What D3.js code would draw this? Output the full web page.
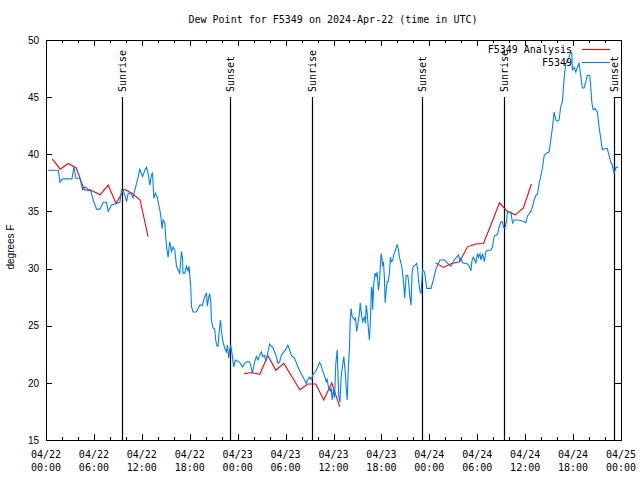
<!DOCTYPE html>
<html><head><meta charset="utf-8">
<script src="https://cdn.jsdelivr.net/npm/d3@7"></script>
<style>body{margin:0;background:#fff}</style>
</head><body>
<script>
// ---- data ----
const chartTitle = "Dew Point for F5349 on 2024-Apr-22 (time in UTC)";
const yLabel = "degrees F";
const majorTickHours = [0,6,12,18,24,30,36,42,48,54,60,66,72];
const xTickDates = ["04/22","04/22","04/22","04/22","04/23","04/23","04/23","04/23","04/24","04/24","04/24","04/24","04/25"];
const xTickTimes = ["00:00","06:00","12:00","18:00","00:00","06:00","12:00","18:00","00:00","06:00","12:00","18:00","00:00"];
const minorTickHours = d3.range(0, 73, 2);
const yTicks = [15,20,25,30,35,40,45,50];

const eventHours = [9.46, 23.06, 33.29, 47.04, 57.29, 71.1];
const eventLabels = ["Sunrise","Sunset","Sunrise","Sunset","Sunrise","Sunset"];

const seriesNames = ["F5349 Analysis","F5349"];

// analysis (red), hours since 04/22 00:00 UTC
const analysisHours = [0.78,1.78,2.78,3.78,4.78,5.78,6.78,7.78,8.78,9.78,10.78,11.78,12.78,
  24.78,25.78,26.78,27.78,28.78,29.78,30.78,31.78,32.78,33.78,34.78,35.78,36.78,
  48.78,49.78,50.78,51.78,52.78,53.78,54.78,55.78,56.78,57.78,58.78,59.78,60.78];
const analysisValues = [39.6,38.7,39.2,38.8,36.9,36.8,36.45,37.3,35.7,36.95,36.6,36.0,32.8,
  20.8,20.9,20.75,22.4,21.1,21.7,20.55,19.4,19.9,19.9,18.5,20.0,17.9,
  30.5,30.1,30.45,30.6,31.9,32.15,32.2,33.95,35.75,35.0,34.7,35.3,37.4];

// observations (blue)
const obsHours = [
0.25,1.54,1.75,1.96,2.13,3.25,3.5,3.75,4.25,4.58,
4.88,5.29,5.58,5.91,6.33,6.75,7.16,7.58,7.79,8.21,
8.83,9.25,9.46,9.66,9.88,10.09,10.29,10.71,10.91,11.13,
11.34,11.54,11.75,12.09,12.38,12.59,12.79,13.0,13.21,13.34,
13.5,13.71,13.91,14.13,14.34,14.54,14.66,14.88,15.0,15.16,
15.29,15.5,15.71,15.91,16.13,16.34,16.54,16.75,16.96,17.09,
17.16,17.38,17.59,17.79,17.91,18.0,18.13,18.21,18.41,18.84,
19.04,19.25,19.59,19.75,19.96,20.09,20.21,20.38,20.5,20.63,
20.71,20.91,21.13,21.25,21.41,21.54,21.66,21.84,21.96,22.16,
22.38,22.59,22.71,22.88,23.0,23.13,23.29,23.5,23.71,24.04,
24.25,24.59,24.88,25.16,25.5,25.71,25.84,26.13,26.34,26.54,
26.75,26.96,27.16,27.38,27.54,27.79,28.0,28.21,28.41,28.63,
28.84,29.04,29.25,29.46,29.66,30.0,30.29,30.5,30.71,31.13,
31.54,31.96,32.38,32.59,32.79,33.0,33.21,33.41,33.63,33.84,
34.04,34.25,34.46,34.66,34.88,35.09,35.21,35.38,35.59,35.71,
35.84,36.0,36.13,36.29,36.46,36.66,36.81,36.96,37.16,37.29,
37.46,37.59,37.71,37.88,38.0,38.09,38.21,38.34,38.5,38.63,
38.75,38.91,39.04,39.25,39.34,39.54,39.66,39.88,40.0,40.09,
40.21,40.38,40.5,40.63,40.75,40.84,40.91,41.04,41.21,41.34,
41.46,41.63,41.75,41.96,42.09,42.16,42.25,42.38,42.46,42.59,
42.71,42.84,43.0,43.13,43.25,43.41,43.54,43.71,43.84,43.96,
44.13,44.25,44.46,44.59,44.75,44.91,45.09,45.29,45.41,45.54,
45.71,45.84,46.0,46.25,46.41,46.54,46.66,46.84,46.96,47.16,
47.38,47.5,47.66,48.21,48.5,48.84,49.04,49.34,49.88,50.09,
50.5,50.71,51.13,51.41,51.66,51.84,51.96,52.16,52.79,53.0,
53.21,53.34,53.5,53.84,53.91,54.04,54.16,54.34,54.46,54.66,
54.88,55.09,55.29,55.71,55.91,56.13,56.54,56.75,56.96,57.16,
57.29,57.5,57.66,57.79,58.0,58.21,58.41,58.63,59.04,59.46,
59.88,60.09,60.29,60.5,60.71,60.91,61.13,61.34,61.54,61.75,
61.96,62.16,62.38,62.66,63.0,63.41,63.63,63.84,64.04,64.25,
64.46,64.66,64.79,64.96,65.09,65.29,65.5,65.71,65.84,65.91,
66.13,66.34,66.54,66.75,66.96,67.16,67.38,67.59,67.79,68.09,
68.21,68.34,68.5,68.75,69.04,69.25,69.46,69.66,70.0,70.29,
70.5,70.71,70.91,71.13,71.34,71.66];
const obsValues = [
38.6,38.6,37.55,37.75,37.85,37.85,38.9,37.9,37.9,36.9,
37.15,36.9,36.9,36.0,35.2,35.2,35.8,35.8,35.0,35.56,
35.7,35.8,36.9,36.8,36.4,35.85,36.6,36.5,36.2,36.9,
37.46,38.0,38.7,38.04,38.6,38.86,38.3,37.3,38.2,38.4,
36.15,36.6,36.3,35.56,34.8,33.5,34.25,34.0,32.65,31.6,
31.0,32.35,31.5,31.9,31.6,30.2,29.9,29.6,31.5,30.9,
29.6,29.6,30.2,29.8,30.2,29.4,28.3,26.7,26.2,26.2,
26.5,26.8,26.8,27.25,27.7,27.8,26.7,27.55,27.8,27.1,
25.5,24.8,24.7,23.75,23.2,23.2,24.3,25.5,24.6,23.6,
23.0,22.7,23.3,22.15,22.9,23.3,22.6,21.4,22.0,21.9,
21.8,21.4,21.7,21.85,21.85,21.3,20.8,21.85,22.3,22.0,
22.4,22.7,22.3,22.4,21.85,22.7,23.4,23.2,23.1,22.7,
22.3,21.7,21.8,22.4,22.6,22.9,23.3,22.9,22.4,22.15,
21.4,20.8,20.25,19.96,20.3,20.5,20.3,20.7,20.9,21.1,
21.4,21.8,21.5,21.0,20.6,20.1,20.3,19.6,19.3,19.6,
18.5,19.5,18.7,21.7,22.9,18.8,18.3,20.5,21.7,22.3,
21.0,19.66,18.5,21.7,23.0,25.5,26.5,25.8,25.65,25.5,
25.65,24.5,25.06,26.1,27.0,25.8,25.35,25.8,25.2,26.8,
26.2,24.6,23.75,25.5,28.4,28.2,26.4,28.7,29.6,29.3,
29.7,28.1,28.8,31.3,30.75,30.2,30.6,29.15,27.0,28.0,
28.85,28.85,29.6,31.0,30.6,30.7,31.2,31.5,31.8,32.06,
31.7,31.0,30.46,30.0,29.0,27.4,29.4,29.4,28.85,27.7,
26.8,29.6,30.2,30.3,30.46,29.9,28.85,28.0,27.8,29.9,
29.7,29.3,28.27,28.27,29.0,30.0,30.3,30.75,30.75,30.6,
30.3,30.2,30.75,31.0,31.2,30.6,30.9,30.5,30.4,30.2,
29.8,30.7,31.0,30.5,30.9,31.3,31.0,31.3,30.75,31.3,
30.6,31.5,31.6,31.6,31.9,32.85,33.0,33.66,34.1,34.1,
33.6,33.6,34.1,35.0,34.9,34.95,34.0,34.25,34.25,34.2,
34.1,34.0,34.6,34.8,35.0,35.4,36.0,36.4,36.5,37.46,
38.1,38.8,39.9,40.1,40.2,42.3,43.7,43.0,42.9,43.0,
44.2,44.6,45.9,47.2,47.96,48.1,48.5,49.0,48.8,47.4,
47.6,47.2,47.6,47.96,46.9,45.8,45.8,46.35,46.9,46.9,
45.9,44.6,43.9,44.0,43.7,42.4,41.4,40.4,40.5,40.5,
39.9,39.35,39.06,38.3,38.8,38.9];

// ---- drawing ----
const W = 640, H = 480;
const X0 = 46, X1 = 621, Y0 = 40, Y1 = 440;
const MONO = "'DejaVu Sans Mono', monospace";
const SANS = "'Liberation Sans', Arial, sans-serif";
const RED = "#ff0000", BLUE = "#0080ff";

const svg = d3.select("body").append("svg").attr("width", W).attr("height", H);
svg.append("rect").attr("width", W).attr("height", H).attr("fill", "#fff");

const x = d3.scaleLinear().domain([0, 72]).range([X0, X1]);
const y = d3.scaleLinear().domain([15, 50]).range([Y1, Y0]);

function strip(g){ g.select(".domain").remove(); g.selectAll("line").attr("stroke","#000"); }

// minor x ticks bottom/top
svg.append("g").attr("transform", `translate(0,${Y1})`).attr("shape-rendering","crispEdges")
  .call(d3.axisBottom(x).tickValues(minorTickHours).tickSize(-3).tickSizeOuter(0).tickFormat(""))
  .call(strip);
svg.append("g").attr("transform", `translate(0,${Y0})`).attr("shape-rendering","crispEdges")
  .call(d3.axisTop(x).tickValues(minorTickHours).tickSize(-3).tickSizeOuter(0).tickFormat(""))
  .call(strip);
// major x ticks
const gxb = svg.append("g").attr("transform", `translate(0,${Y1})`).attr("shape-rendering","crispEdges")
  .call(d3.axisBottom(x).tickValues(majorTickHours).tickSize(-6).tickSizeOuter(0).tickFormat(""))
  .call(strip);
svg.append("g").attr("transform", `translate(0,${Y0})`).attr("shape-rendering","crispEdges")
  .call(d3.axisTop(x).tickValues(majorTickHours).tickSize(-6).tickSizeOuter(0).tickFormat(""))
  .call(strip);
// x labels (two lines)
const xl = svg.append("g").attr("font-family", MONO).attr("font-size", 10).attr("fill", "#000");
majorTickHours.forEach((h, i) => {
  const t = xl.append("text").attr("text-anchor", "middle").attr("x", x(h));
  t.append("tspan").attr("x", x(h)).attr("y", 458).text(xTickDates[i]);
  t.append("tspan").attr("x", x(h)).attr("y", 471).text(xTickTimes[i]);
});

// y axes
svg.append("g").attr("transform", `translate(${X0},0)`).attr("shape-rendering","crispEdges")
  .call(d3.axisLeft(y).tickValues(yTicks).tickSize(-6).tickSizeOuter(0).tickPadding(7).tickFormat(d3.format("d")))
  .call(strip)
  .call(g => g.selectAll("text").attr("font-family", SANS).attr("font-size", 10).attr("fill", "#000"));
svg.append("g").attr("transform", `translate(${X1},0)`).attr("shape-rendering","crispEdges")
  .call(d3.axisRight(y).tickValues(yTicks).tickSize(-6).tickSizeOuter(0).tickFormat(""))
  .call(strip);

// border
svg.append("rect").attr("x", X0 + 0.5).attr("y", Y0 + 0.5).attr("width", X1 - X0).attr("height", Y1 - Y0)
  .attr("fill", "none").attr("stroke", "#000").attr("shape-rendering","crispEdges");

// sunrise / sunset
const ev = svg.append("g");
eventHours.forEach((h, i) => {
  const xx = Math.round(x(h)) + 0.5;
  ev.append("line").attr("x1", xx).attr("x2", xx).attr("y1", 97).attr("y2", Y1)
    .attr("stroke", "#000").attr("stroke-width", 1.2);
  ev.append("text").attr("transform", `translate(${xx + 3.5},92) rotate(-90)`)
    .attr("font-family", MONO).attr("font-size", 10).attr("fill", "#000").text(eventLabels[i]);
});

// analysis line (red) split into segments at gaps
const segs = [];
analysisHours.forEach((h, i) => {
  if (i === 0 || h - analysisHours[i-1] > 1.5) segs.push([]);
  segs[segs.length-1].push([h, analysisValues[i]]);
});
const line = d3.line().x(d => x(d[0])).y(d => y(d[1]));
svg.append("g").selectAll("path").data(segs).join("path")
  .attr("d", line).attr("fill", "none").attr("stroke", RED).attr("stroke-width", 1.1);

// observations (blue)
const obs = obsHours.map((h, i) => [h, obsValues[i]]);
svg.append("path").datum(obs).attr("d", line).attr("fill", "none").attr("stroke", BLUE).attr("stroke-width", 1.1);

// legend
const lg = svg.append("g").attr("font-family", MONO).attr("font-size", 10).attr("fill", "#000");
[RED, BLUE].forEach((c, i) => {
  const cy = 49.5 + i * 13;
  lg.append("text").attr("x", 572).attr("y", cy + 3.5).attr("text-anchor", "end").text(seriesNames[i]);
  lg.append("line").attr("x1", 582).attr("x2", 610).attr("y1", cy).attr("y2", cy)
    .attr("stroke", c).attr("stroke-width", 1.1);
});

// title & y label
svg.append("text").attr("x", 333).attr("y", 23).attr("text-anchor", "middle")
  .attr("font-family", MONO).attr("font-size", 10).attr("fill", "#000").text(chartTitle);
svg.append("text").attr("transform", "translate(14,247) rotate(-90)").attr("text-anchor", "middle")
  .attr("font-family", SANS).attr("font-size", 10).attr("fill", "#000").text(yLabel);
</script>
</body></html>
